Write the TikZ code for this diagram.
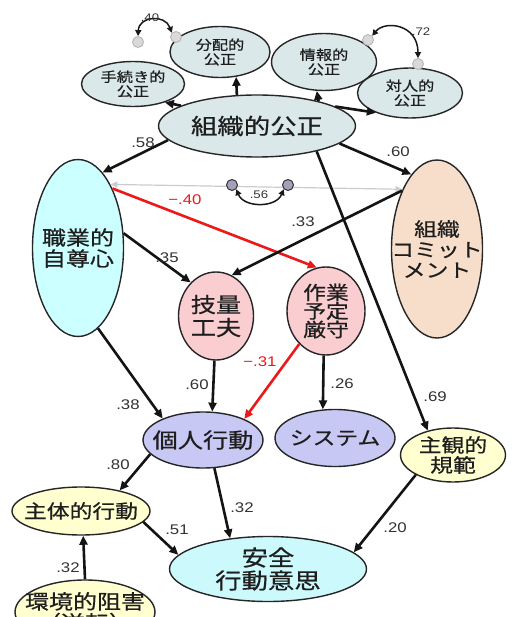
\documentclass[tikz,border=0pt]{standalone}
\usepackage{fontspec}
\newfontfamily\jp[FakeStretch=1.2,FakeBold=0.6]{Noto Sans CJK JP}
\newfontfamily\lab[FakeStretch=1.2]{Liberation Sans}
\usetikzlibrary{shapes.geometric,arrows.meta}
\definecolor{topfill}{RGB}{218,232,234}
\definecolor{cyanfill}{RGB}{204,255,255}
\definecolor{peachfill}{RGB}{246,222,202}
\definecolor{pinkfill}{RGB}{250,205,208}
\definecolor{lavfill}{RGB}{200,200,245}
\definecolor{yelfill}{RGB}{255,255,208}
\definecolor{safefill}{RGB}{204,250,252}
\definecolor{redline}{RGB}{235,25,25}
\definecolor{txt}{RGB}{30,30,30}
\tikzset{
  ell/.style={ellipse, draw=black!85, line width=1.4pt, inner sep=0pt},
  tx/.style 2 args={align=center, text=txt, inner sep=0pt, font=\jp\fontsize{#1}{#2}\selectfont},
  arr/.style={-{Triangle[length=9pt,width=8pt]}, line width=2.6pt, black!92},
  redarr/.style={-{Triangle[length=9pt,width=8pt]}, line width=2.6pt, redline},
  lbl/.style={font=\lab\fontsize{14}{14}\selectfont, text=black!80, inner sep=0pt},
  slbl/.style={font=\lab\fontsize{11}{11}\selectfont, text=black!80, inner sep=0pt},
  errc/.style={circle, minimum size=11pt, inner sep=0pt, draw=gray!60, fill=gray!30, line width=0.8pt},
  errd/.style={circle, minimum size=11pt, inner sep=0pt, draw=black!80, fill={rgb,255:red,165;green,160;blue,185}, line width=1pt},
  cov/.style={{Triangle[length=6pt,width=6pt]}-{Triangle[length=6pt,width=6pt]}, line width=1.5pt, black!90},
}
\begin{document}
\begin{tikzpicture}[x=1pt,y=-1pt]
\useasboundingbox (0,0) rectangle (529,617);
\fill[white] (0,0) rectangle (529,617);
\clip (0,0) rectangle (529,617);

% top ellipses
\node[ell, fill=topfill, minimum width=103pt, minimum height=45pt, label={[tx={13.5}{14.5}]center:{手続き的\\公正}}] (tet) at (133,84) {};
\node[ell, fill=topfill, minimum width=100pt, minimum height=51pt, label={[tx={13.5}{14.5}]center:{分配的\\公正}}] (bun) at (220,52) {};
\node[ell, fill=topfill, minimum width=105pt, minimum height=57pt, label={[tx={13.5}{14.5}]center:{情報的\\公正}}] (jou) at (324,62) {};
\node[ell, fill=topfill, minimum width=105pt, minimum height=50pt, label={[tx={13.5}{14.5}]center:{対人的\\公正}}] (tai) at (410,93) {};
\node[ell, fill=topfill, minimum width=197pt, minimum height=62pt, label={[tx={22}{22}]center:{組織的公正}}] (sos) at (257,126) {};

% error circles top
\node[errc] (e1) at (138,42) {};
\node[errc] (e2) at (176,37) {};
\node[errc] (e3) at (368,40) {};
\node[errc] (e4) at (418,64) {};
\draw[cov] (e1.north) .. controls (139,16) and (165,14) .. (e2.north west);
\draw[cov] (e3.north east) .. controls (385,20) and (418,24) .. (e4.north);
\node[slbl] (l40) at (150,18) {.40};
\node[slbl] (l72) at (421,32) {.72};

% middle nodes
\node[ell, fill=cyanfill, minimum width=91pt, minimum height=177pt, label={[tx={20}{21}]center:{職業的\\自尊心}}] (sho) at (78,248) {};
\node[ell, fill=peachfill, minimum width=91pt, minimum height=178pt, label={[tx={19}{20.5}]center:{組織\\コミット\\メント}}] (com) at (437,249) {};
\node[ell, fill=pinkfill, minimum width=75pt, minimum height=88pt, label={[tx={21}{23}]center:{技量\\工夫}}] (gij) at (216,316) {};
\node[ell, fill=pinkfill, minimum width=78pt, minimum height=88pt, label={[tx={19}{18.5}]center:{作業\\予定\\厳守}}] (sag) at (326,311) {};

% lower nodes
\node[ell, fill=lavfill, minimum width=120pt, minimum height=56pt, label={[tx={21}{21}]center:{個人行動}}] (koj) at (203,440) {};
\node[ell, fill=lavfill, minimum width=120pt, minimum height=57pt, label={[tx={19}{19}]center:{システム}}] (sys) at (335,438) {};
\node[ell, fill=yelfill, minimum width=105pt, minimum height=54pt, label={[tx={19}{20}]center:{主観的\\規範}}] (shu) at (453,455) {};
\node[ell, fill=yelfill, minimum width=138pt, minimum height=48pt, label={[tx={19}{19}]center:{主体的行動}}] (sut) at (81,511) {};
\node[ell, fill=safefill, minimum width=197pt, minimum height=65pt, label={[tx={22}{23}]center:{安全\\行動意思}}] (anz) at (268,569) {};
\node[ell, fill=yelfill, minimum width=140pt, minimum height=64pt, label={[tx={20}{21}]center:{環境的阻害\\（逆転）}}] (kan) at (85,612) {};

% grey covariance line and error circles
\draw[{Triangle[length=7pt,width=6pt]}-{Triangle[length=7pt,width=6pt]}, gray!40, line width=1.2pt] (sho.63) -- (com.120);
\node[errd] (e5) at (232,185) {};
\node[errd] (e6) at (288,185) {};
\draw[cov] (e5.south east) .. controls (244,208) and (276,208) .. (e6.south west);
\node[slbl] (l56) at (259,195) {.56};

% top arrows
\draw[arr] (sos.165) -- (tet.-30);
\draw[arr] (sos.123) -- (bun.-57);
\draw[arr] (sos.22) -- (jou.-104);
\draw[arr] (sos.14) -- (tai.210);

% paths
\draw[arr] (sos.189) -- (sho.72);
\draw[arr] (sos.-12) -- (com.109);
\draw[arr] (sos.-23) -- (shu.136);
\draw[redarr] (sho.60) -- (sag.102);
\draw[arr] (com.121) -- (gij.69);
\draw[arr] (sho.18) -- (gij.127);
\draw[arr] (gij.-92) -- (koj.72);
\draw[redarr] (sag.-129) -- (koj.27);
\draw[arr] (sag.-93) -- (sys.113);
\draw[arr] (sho.-76) -- (koj.152);
\draw[arr] (koj.195) -- (sut.28);
\draw[arr] (koj.-68) -- (anz.141);
\draw[arr] (sut.-10) -- (anz.171);
\draw[arr] (shu.208) -- (anz.11);
\draw[arr] (kan.north) -- (sut.-85);

% labels
\node[lbl] (a58) at (143,143) {.58};
\node[lbl] (a60) at (398,152) {.60};
\node[lbl, text=redline] (am40) at (185,200) {−.40};
\node[lbl] (a33) at (303,222) {.33};
\node[lbl] (a35) at (167,258) {.35};
\node[lbl, text=redline] (am31) at (260,362) {−.31};
\node[lbl] (a60b) at (197,385) {.60};
\node[lbl] (a26) at (342,384) {.26};
\node[lbl] (a69) at (435,397) {.69};
\node[lbl] (a38) at (128,405) {.38};
\node[lbl] (a80) at (118,465) {.80};
\node[lbl] (a32) at (242,508) {.32};
\node[lbl] (a51) at (177,530) {.51};
\node[lbl] (a20) at (395,528) {.20};
\node[lbl] (a32b) at (68,568) {.32};
\end{tikzpicture}
\end{document}
